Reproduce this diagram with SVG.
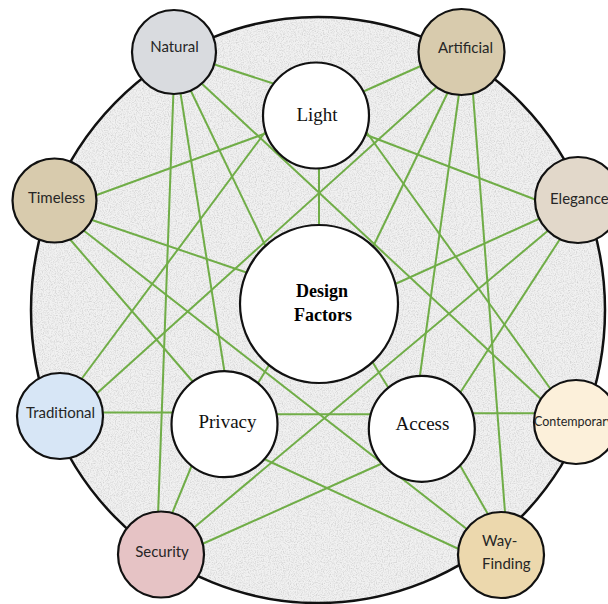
<svg xmlns="http://www.w3.org/2000/svg" width="608" height="604" viewBox="0 0 608 604">
<defs>
<filter id="grain" x="0" y="0" width="100%" height="100%">
<feTurbulence type="fractalNoise" baseFrequency="0.85" numOctaves="2" seed="4" result="n"/>
<feColorMatrix in="n" type="matrix" values="0 0 0 0 0.6  0 0 0 0 0.6  0 0 0 0 0.6  1.9 0 0 0 -0.8" result="g"/>
<feComposite in="g" in2="SourceGraphic" operator="in"/>
</filter>
<style>
.bg{fill:#f1f1f1;stroke:none}
.rim{fill:none;stroke:#111;stroke-width:2.5}
.ln line{stroke:#70AD47;stroke-width:2;stroke-linecap:butt}
.inner{fill:#fff;stroke:#111;stroke-width:2.2}
.sat{stroke:#111;stroke-width:2.2}
.st{font-family:Lato,"Open Sans","Liberation Sans",sans-serif;font-size:15px;fill:#262626;text-anchor:middle}
.it{font-family:"Liberation Serif","Times New Roman",serif;font-size:19px;fill:#111;text-anchor:middle}
.dt{font-family:"Liberation Serif","Times New Roman",serif;font-size:18px;font-weight:bold;fill:#000;text-anchor:middle}
</style>
</defs>
<g id="background">
<ellipse class="bg" cx="318" cy="310" rx="287" ry="293"/>
<ellipse cx="318" cy="310" rx="287" ry="293" fill="#000" filter="url(#grain)"/>
<ellipse class="rim" cx="318" cy="310" rx="287" ry="293"/>
</g>
<g id="connectors" class="ln">
<line x1="210" y1="63" x2="278" y2="85"/>
<line x1="360" y1="93" x2="423" y2="65"/>
<line x1="94" y1="196" x2="268" y2="132.5"/>
<line x1="364" y1="134" x2="539" y2="201"/>
<line x1="266" y1="131" x2="80" y2="381"/>
<line x1="365" y1="130" x2="552" y2="391"/>
<line x1="200" y1="82" x2="543" y2="401"/>
<line x1="440" y1="84" x2="94" y2="396"/>
<line x1="173.5" y1="90" x2="158" y2="516"/>
<line x1="472.7" y1="90" x2="505.3" y2="516"/>
<line x1="180" y1="90" x2="225" y2="375"/>
<line x1="459.5" y1="90" x2="419.6" y2="378"/>
<line x1="189" y1="87" x2="266.3" y2="247.7"/>
<line x1="448" y1="92" x2="371.5" y2="250"/>
<line x1="319" y1="165" x2="319" y2="228"/>
<line x1="89" y1="219" x2="248" y2="273"/>
<line x1="543" y1="217" x2="393" y2="285"/>
<line x1="68" y1="237" x2="194" y2="383"/>
<line x1="561" y1="237.5" x2="458" y2="396"/>
<line x1="83" y1="230" x2="468" y2="530"/>
<line x1="550" y1="229" x2="190" y2="531"/>
<line x1="100" y1="412.5" x2="175" y2="412.5"/>
<line x1="471" y1="413.3" x2="537" y2="413.3"/>
<line x1="274" y1="414.3" x2="372" y2="414.3"/>
<line x1="255" y1="388" x2="271" y2="362"/>
<line x1="370" y1="358" x2="391" y2="392"/>
<line x1="194" y1="460" x2="171" y2="516"/>
<line x1="457" y1="460" x2="489" y2="516"/>
<line x1="262" y1="458" x2="463" y2="551"/>
<line x1="383" y1="463" x2="200" y2="545"/>
</g>
<g id="light"><circle class="inner" cx="316" cy="115.5" r="53"/><text class="it" x="317" y="121">Light</text></g>
<g id="design-factors"><circle class="inner" cx="319" cy="304" r="79"/><text class="dt" x="322" y="297">Design</text><text class="dt" x="323" y="321">Factors</text></g>
<g id="privacy"><circle class="inner" cx="224.5" cy="424.2" r="53"/><text class="it" x="227.5" y="428">Privacy</text></g>
<g id="access"><circle class="inner" cx="421.8" cy="428.8" r="53"/><text class="it" x="422.5" y="429.5">Access</text></g>
<g id="natural"><circle class="sat" cx="174" cy="52" r="42" fill="#d9dbdf"/><text class="st" x="174.5" y="51.5">Natural</text></g>
<g id="artificial"><circle class="sat" cx="461.5" cy="52" r="43" fill="#d8cbad"/><text class="st" x="465.5" y="52.5">Artificial</text></g>
<g id="timeless"><circle class="sat" cx="54.5" cy="200.5" r="42" fill="#d8cbad"/><text class="st" x="56.5" y="203">Timeless</text></g>
<g id="elegance"><circle class="sat" cx="578" cy="200" r="43" fill="#e2d8ca"/><text class="st" x="550" y="203.5" style="text-anchor:start">Elegance</text></g>
<g id="traditional"><circle class="sat" cx="60" cy="416" r="43" fill="#d7e6f6"/><text class="st" x="60.5" y="417.5">Traditional</text></g>
<g id="contemporary"><circle class="sat" cx="576" cy="422" r="42" fill="#fcf0da"/><text class="st" x="534" y="425.5" style="text-anchor:start;font-size:12.5px">Contemporary</text></g>
<g id="security"><circle class="sat" cx="161" cy="554.5" r="43" fill="#e6c3c5"/><text class="st" x="162" y="557">Security</text></g>
<g id="way-finding"><circle class="sat" cx="501" cy="555" r="43" fill="#ecd8ad"/><text class="st" x="482" y="546" style="text-anchor:start">Way-</text><text class="st" x="482" y="569" style="text-anchor:start">Finding</text></g>
</svg>
